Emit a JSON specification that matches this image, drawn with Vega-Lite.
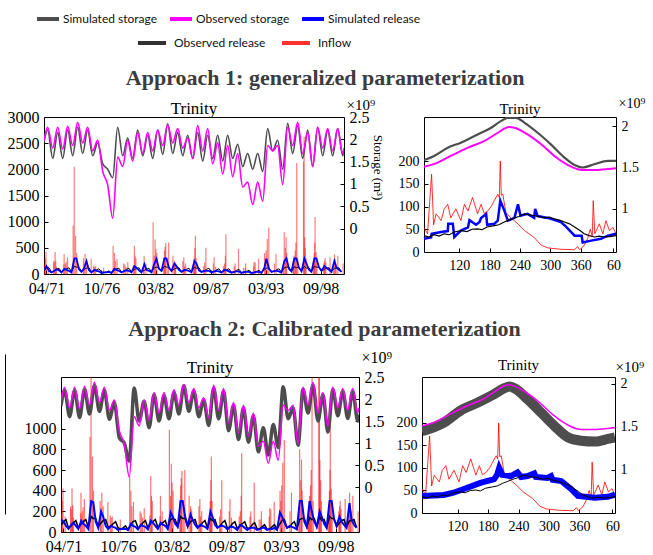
{
  "$schema": "https://vega.github.io/schema/vega-lite/v6.json",
  "background": "white",
  "padding": {"left": 5, "top": 6, "right": 0, "bottom": 0},
  "datasets": {
    "oS": [
      {"t":"1971-01-01","v":1.97},
      {"t":"1971-05-15","v":2.27},{"t":"1971-11-15","v":1.80},
      {"t":"1972-05-15","v":2.27},{"t":"1972-11-15","v":1.78},
      {"t":"1973-05-15","v":2.29},{"t":"1973-11-15","v":1.86},
      {"t":"1974-05-15","v":2.38},{"t":"1974-11-15","v":1.92},
      {"t":"1975-05-15","v":2.27},{"t":"1975-11-15","v":1.74},
      {"t":"1976-05-15","v":1.98},{"t":"1976-11-15","v":1.28},
      {"t":"1977-05-15","v":0.98},{"t":"1977-11-15","v":0.23},
      {"t":"1978-05-15","v":1.60},{"t":"1978-11-15","v":1.39},
      {"t":"1979-05-15","v":1.98},{"t":"1979-11-15","v":1.51},
      {"t":"1980-05-15","v":2.15},{"t":"1980-11-15","v":1.68},
      {"t":"1981-05-15","v":2.15},{"t":"1981-11-15","v":1.74},
      {"t":"1982-05-15","v":2.21},{"t":"1982-11-15","v":1.86},
      {"t":"1983-05-15","v":2.33},{"t":"1983-11-15","v":1.92},
      {"t":"1984-05-15","v":2.24},{"t":"1984-11-15","v":1.80},
      {"t":"1985-05-15","v":2.03},{"t":"1985-11-15","v":1.57},
      {"t":"1986-05-15","v":2.31},{"t":"1986-11-15","v":1.74},
      {"t":"1987-05-15","v":2.24},{"t":"1987-11-15","v":1.45},
      {"t":"1988-05-15","v":1.92},{"t":"1988-11-15","v":1.22},
      {"t":"1989-05-15","v":1.86},{"t":"1989-11-15","v":1.16},
      {"t":"1990-05-15","v":1.68},{"t":"1990-11-15","v":0.93},
      {"t":"1991-05-15","v":1.04},{"t":"1991-11-15","v":0.54},
      {"t":"1992-05-15","v":1.04},{"t":"1992-11-15","v":0.61},
      {"t":"1993-05-15","v":1.86},{"t":"1993-11-15","v":1.74},
      {"t":"1994-05-15","v":1.86},{"t":"1994-11-15","v":0.98},
      {"t":"1995-05-15","v":2.27},{"t":"1995-11-15","v":1.86},
      {"t":"1996-05-15","v":2.38},{"t":"1996-11-15","v":1.68},
      {"t":"1997-05-15","v":2.15},{"t":"1997-11-15","v":1.39},
      {"t":"1998-05-15","v":2.27},{"t":"1998-11-15","v":1.80},
      {"t":"1999-05-15","v":2.24},{"t":"1999-11-15","v":1.74},
      {"t":"2000-05-15","v":2.24},{"t":"2000-11-15","v":1.68},
      {"t":"2000-12-31","v":1.80}
    ],
    "sS1": [
      {"t":"1971-01-01","v":1.94},
      {"t":"1971-05-15","v":2.21},{"t":"1971-11-15","v":1.57},
      {"t":"1972-05-15","v":2.15},{"t":"1972-11-15","v":1.57},
      {"t":"1973-05-15","v":2.21},{"t":"1973-11-15","v":1.63},
      {"t":"1974-05-15","v":2.27},{"t":"1974-11-15","v":1.68},
      {"t":"1975-05-15","v":2.21},{"t":"1975-11-15","v":1.63},
      {"t":"1976-05-15","v":1.92},{"t":"1976-11-15","v":1.45},
      {"t":"1977-05-15","v":1.33},{"t":"1977-11-15","v":1.14},
      {"t":"1978-05-15","v":2.27},{"t":"1978-11-15","v":1.63},
      {"t":"1979-05-15","v":2.03},{"t":"1979-11-15","v":1.57},
      {"t":"1980-05-15","v":2.21},{"t":"1980-11-15","v":1.63},
      {"t":"1981-05-15","v":2.09},{"t":"1981-11-15","v":1.57},
      {"t":"1982-05-15","v":2.21},{"t":"1982-11-15","v":1.66},
      {"t":"1983-05-15","v":2.35},{"t":"1983-11-15","v":1.68},
      {"t":"1984-05-15","v":2.15},{"t":"1984-11-15","v":1.63},
      {"t":"1985-05-15","v":2.09},{"t":"1985-11-15","v":1.57},
      {"t":"1986-05-15","v":2.15},{"t":"1986-11-15","v":1.51},
      {"t":"1987-05-15","v":2.09},{"t":"1987-11-15","v":1.57},
      {"t":"1988-05-15","v":2.09},{"t":"1988-11-15","v":1.51},
      {"t":"1989-05-15","v":2.09},{"t":"1989-11-15","v":1.57},
      {"t":"1990-05-15","v":1.89},{"t":"1990-11-15","v":1.39},
      {"t":"1991-05-15","v":1.68},{"t":"1991-11-15","v":1.33},
      {"t":"1992-05-15","v":1.68},{"t":"1992-11-15","v":1.28},
      {"t":"1993-05-15","v":2.24},{"t":"1993-11-15","v":1.74},
      {"t":"1994-05-15","v":1.98},{"t":"1994-11-15","v":1.33},
      {"t":"1995-05-15","v":2.36},{"t":"1995-11-15","v":1.68},
      {"t":"1996-05-15","v":2.30},{"t":"1996-11-15","v":1.57},
      {"t":"1997-05-15","v":2.21},{"t":"1997-11-15","v":1.39},
      {"t":"1998-05-15","v":2.27},{"t":"1998-11-15","v":1.63},
      {"t":"1999-05-15","v":2.21},{"t":"1999-11-15","v":1.63},
      {"t":"2000-05-15","v":2.24},{"t":"2000-11-15","v":1.63},
      {"t":"2000-12-31","v":1.75}
    ],
    "sS2": [
      {"t":"1971-01-01","v":1.85},
      {"t":"1971-05-15","v":2.20},{"t":"1971-11-15","v":1.60},
      {"t":"1972-05-15","v":2.20},{"t":"1972-11-15","v":1.58},
      {"t":"1973-05-15","v":2.22},{"t":"1973-11-15","v":1.66},
      {"t":"1974-05-15","v":2.31},{"t":"1974-11-15","v":1.72},
      {"t":"1975-05-15","v":2.20},{"t":"1975-11-15","v":1.54},
      {"t":"1976-05-15","v":1.92},{"t":"1976-11-15","v":1.12},
      {"t":"1977-05-15","v":1.00},{"t":"1977-11-15","v":0.59},
      {"t":"1978-05-15","v":2.25},{"t":"1978-11-15","v":1.50},
      {"t":"1979-05-15","v":1.95},{"t":"1979-11-15","v":1.35},
      {"t":"1980-05-15","v":2.10},{"t":"1980-11-15","v":1.50},
      {"t":"1981-05-15","v":2.08},{"t":"1981-11-15","v":1.55},
      {"t":"1982-05-15","v":2.15},{"t":"1982-11-15","v":1.66},
      {"t":"1983-05-15","v":2.30},{"t":"1983-11-15","v":1.72},
      {"t":"1984-05-15","v":2.18},{"t":"1984-11-15","v":1.60},
      {"t":"1985-05-15","v":1.98},{"t":"1985-11-15","v":1.40},
      {"t":"1986-05-15","v":2.25},{"t":"1986-11-15","v":1.55},
      {"t":"1987-05-15","v":2.18},{"t":"1987-11-15","v":1.28},
      {"t":"1988-05-15","v":1.86},{"t":"1988-11-15","v":1.08},
      {"t":"1989-05-15","v":1.80},{"t":"1989-11-15","v":1.02},
      {"t":"1990-05-15","v":1.62},{"t":"1990-11-15","v":0.80},
      {"t":"1991-05-15","v":1.35},{"t":"1991-11-15","v":0.73},
      {"t":"1992-05-15","v":1.42},{"t":"1992-11-15","v":0.90},
      {"t":"1993-05-15","v":2.28},{"t":"1993-11-15","v":1.55},
      {"t":"1994-05-15","v":1.80},{"t":"1994-11-15","v":0.95},
      {"t":"1995-05-15","v":2.22},{"t":"1995-11-15","v":1.68},
      {"t":"1996-05-15","v":2.32},{"t":"1996-11-15","v":1.50},
      {"t":"1997-05-15","v":2.10},{"t":"1997-11-15","v":1.25},
      {"t":"1998-05-15","v":2.22},{"t":"1998-11-15","v":1.62},
      {"t":"1999-05-15","v":2.18},{"t":"1999-11-15","v":1.56},
      {"t":"2000-05-15","v":2.18},{"t":"2000-11-15","v":1.50},
      {"t":"2000-12-31","v":1.65}
    ],
    "inf": [
      {"t":"1971-01-20","v":180},{"t":"1971-02-15","v":300},{"t":"1971-03-15","v":420},{"t":"1971-06-01","v":150},{"t":"1971-12-20","v":250},
      {"t":"1972-01-10","v":220},{"t":"1972-02-10","v":420},{"t":"1972-03-05","v":260},{"t":"1972-04-01","v":140},{"t":"1972-12-25","v":180},
      {"t":"1973-01-05","v":380},{"t":"1973-02-20","v":200},{"t":"1973-03-25","v":240},{"t":"1973-05-10","v":320},{"t":"1973-12-01","v":920},
      {"t":"1974-01-10","v":2050},{"t":"1974-03-01","v":730},{"t":"1974-04-10","v":400},{"t":"1974-12-10","v":300},
      {"t":"1975-01-05","v":200},{"t":"1975-02-10","v":380},{"t":"1975-04-01","v":250},{"t":"1975-09-20","v":290},{"t":"1975-12-15","v":160},
      {"t":"1976-01-20","v":140},{"t":"1976-03-01","v":150},{"t":"1976-12-20","v":120},
      {"t":"1977-12-01","v":540},
      {"t":"1978-01-15","v":400},{"t":"1978-02-20","v":250},{"t":"1978-04-20","v":290},{"t":"1978-12-20","v":200},
      {"t":"1979-02-01","v":180},{"t":"1979-03-15","v":140},{"t":"1979-05-20","v":230},{"t":"1979-12-10","v":160},
      {"t":"1980-01-15","v":540},{"t":"1980-02-10","v":350},{"t":"1980-03-10","v":300},{"t":"1980-12-20","v":150},
      {"t":"1981-01-05","v":350},{"t":"1981-03-10","v":200},{"t":"1981-11-30","v":990},
      {"t":"1982-01-10","v":350},{"t":"1982-02-10","v":660},{"t":"1982-03-10","v":480},{"t":"1982-04-15","v":400},{"t":"1982-12-20","v":300},
      {"t":"1983-01-20","v":450},{"t":"1983-02-10","v":520},{"t":"1983-03-05","v":590},{"t":"1983-04-25","v":300},{"t":"1983-06-20","v":600},{"t":"1983-11-25","v":350},
      {"t":"1984-01-20","v":250},{"t":"1984-02-05","v":220},{"t":"1984-03-01","v":200},{"t":"1984-11-20","v":250},{"t":"1984-12-25","v":320},
      {"t":"1985-01-15","v":150},{"t":"1985-03-01","v":200},{"t":"1985-12-20","v":180},
      {"t":"1986-01-10","v":300},{"t":"1986-02-01","v":500},{"t":"1986-02-20","v":730},{"t":"1986-03-20","v":300},{"t":"1986-12-20","v":150},
      {"t":"1987-01-25","v":220},{"t":"1987-03-10","v":500},{"t":"1987-12-10","v":200},
      {"t":"1988-01-05","v":320},{"t":"1988-03-01","v":140},{"t":"1988-12-10","v":150},
      {"t":"1989-01-20","v":200},{"t":"1989-02-20","v":350},{"t":"1989-03-10","v":760},
      {"t":"1990-01-10","v":150},{"t":"1990-02-10","v":200},{"t":"1990-06-15","v":480},{"t":"1990-12-15","v":120},
      {"t":"1991-02-15","v":120},{"t":"1991-03-05","v":200},{"t":"1991-12-20","v":150},
      {"t":"1992-01-05","v":230},{"t":"1992-02-15","v":220},{"t":"1992-06-20","v":290},
      {"t":"1993-01-20","v":400},{"t":"1993-02-20","v":300},{"t":"1993-03-20","v":450},{"t":"1993-05-01","v":670},{"t":"1993-06-25","v":890},
      {"t":"1994-01-20","v":200},{"t":"1994-03-15","v":380},{"t":"1994-12-10","v":180},
      {"t":"1995-01-10","v":800},{"t":"1995-02-20","v":500},{"t":"1995-03-20","v":700},{"t":"1995-04-10","v":400},{"t":"1995-11-30","v":250},{"t":"1995-12-20","v":300},
      {"t":"1996-01-10","v":350},{"t":"1996-02-15","v":450},{"t":"1996-03-10","v":600},{"t":"1996-04-10","v":2120},{"t":"1996-05-20","v":300},{"t":"1996-12-15","v":2150},
      {"t":"1997-01-05","v":2620},{"t":"1997-01-25","v":700},{"t":"1997-02-20","v":500},{"t":"1997-03-20","v":300},{"t":"1997-12-10","v":260},
      {"t":"1998-01-10","v":400},{"t":"1998-01-30","v":600},{"t":"1998-02-10","v":1090},{"t":"1998-03-20","v":420},{"t":"1998-04-20","v":300},{"t":"1998-12-20","v":200},
      {"t":"1999-01-20","v":250},{"t":"1999-02-10","v":300},{"t":"1999-03-10","v":220},{"t":"1999-08-10","v":320},{"t":"1999-12-15","v":200},
      {"t":"2000-01-20","v":380},{"t":"2000-02-20","v":280},{"t":"2000-03-20","v":200},{"t":"2000-05-20","v":350},{"t":"2000-12-01","v":200}
    ],
    "oR": [
      {"t":"1971-01-15","v":70},{"t":"1971-04-01","v":100},{"t":"1971-07-01","v":120},{"t":"1971-10-01","v":40},
      {"t":"1972-01-15","v":60},{"t":"1972-04-01","v":90},{"t":"1972-07-01","v":110},{"t":"1972-10-01","v":40},
      {"t":"1973-01-15","v":80},{"t":"1973-04-01","v":100},{"t":"1973-07-01","v":120},{"t":"1973-10-01","v":45},
      {"t":"1974-01-15","v":150},{"t":"1974-04-01","v":130},{"t":"1974-07-01","v":130},{"t":"1974-10-01","v":50},
      {"t":"1975-01-15","v":90},{"t":"1975-04-01","v":110},{"t":"1975-07-01","v":120},{"t":"1975-10-01","v":45},
      {"t":"1976-01-15","v":60},{"t":"1976-04-01","v":80},{"t":"1976-07-01","v":100},{"t":"1976-10-01","v":40},
      {"t":"1977-01-15","v":30},{"t":"1977-04-01","v":40},{"t":"1977-07-01","v":60},{"t":"1977-10-01","v":20},
      {"t":"1978-01-15","v":70},{"t":"1978-04-01","v":100},{"t":"1978-07-01","v":110},{"t":"1978-10-01","v":40},
      {"t":"1979-01-15","v":60},{"t":"1979-04-01","v":90},{"t":"1979-07-01","v":110},{"t":"1979-10-01","v":40},
      {"t":"1980-01-15","v":90},{"t":"1980-04-01","v":100},{"t":"1980-07-01","v":120},{"t":"1980-10-01","v":45},
      {"t":"1981-01-15","v":70},{"t":"1981-04-01","v":90},{"t":"1981-07-01","v":110},{"t":"1981-10-01","v":40},
      {"t":"1982-01-15","v":120},{"t":"1982-04-01","v":130},{"t":"1982-07-01","v":120},{"t":"1982-10-01","v":50},
      {"t":"1983-01-15","v":150},{"t":"1983-04-01","v":130},{"t":"1983-07-01","v":130},{"t":"1983-10-01","v":50},
      {"t":"1984-01-15","v":100},{"t":"1984-04-01","v":110},{"t":"1984-07-01","v":120},{"t":"1984-10-01","v":45},
      {"t":"1985-01-15","v":60},{"t":"1985-04-01","v":90},{"t":"1985-07-01","v":110},{"t":"1985-10-01","v":40},
      {"t":"1986-01-15","v":130},{"t":"1986-04-01","v":110},{"t":"1986-07-01","v":120},{"t":"1986-10-01","v":45},
      {"t":"1987-01-15","v":60},{"t":"1987-04-01","v":90},{"t":"1987-07-01","v":110},{"t":"1987-10-01","v":40},
      {"t":"1988-01-15","v":50},{"t":"1988-04-01","v":80},{"t":"1988-07-01","v":100},{"t":"1988-10-01","v":35},
      {"t":"1989-01-15","v":60},{"t":"1989-04-01","v":80},{"t":"1989-07-01","v":100},{"t":"1989-10-01","v":35},
      {"t":"1990-01-15","v":40},{"t":"1990-04-01","v":70},{"t":"1990-07-01","v":90},{"t":"1990-10-01","v":30},
      {"t":"1991-01-15","v":30},{"t":"1991-04-01","v":50},{"t":"1991-07-01","v":70},{"t":"1991-10-01","v":25},
      {"t":"1992-01-15","v":30},{"t":"1992-04-01","v":50},{"t":"1992-07-01","v":70},{"t":"1992-10-01","v":25},
      {"t":"1993-01-15","v":80},{"t":"1993-04-01","v":110},{"t":"1993-07-01","v":120},{"t":"1993-10-01","v":40},
      {"t":"1994-01-15","v":50},{"t":"1994-04-01","v":80},{"t":"1994-07-01","v":100},{"t":"1994-10-01","v":35},
      {"t":"1995-01-15","v":120},{"t":"1995-04-01","v":130},{"t":"1995-07-01","v":130},{"t":"1995-10-01","v":50},
      {"t":"1996-01-15","v":140},{"t":"1996-04-01","v":120},{"t":"1996-07-01","v":130},{"t":"1996-10-01","v":50},
      {"t":"1997-01-15","v":150},{"t":"1997-04-01","v":110},{"t":"1997-07-01","v":120},{"t":"1997-10-01","v":45},
      {"t":"1998-01-15","v":150},{"t":"1998-04-01","v":130},{"t":"1998-07-01","v":130},{"t":"1998-10-01","v":50},
      {"t":"1999-01-15","v":90},{"t":"1999-04-01","v":110},{"t":"1999-07-01","v":120},{"t":"1999-10-01","v":45},
      {"t":"2000-01-15","v":110},{"t":"2000-04-01","v":110},{"t":"2000-07-01","v":120},{"t":"2000-10-01","v":45}
    ],
    "sR1": [
      {"t":"1971-01-15","v":80},{"t":"1971-04-01","v":150},{"t":"1971-07-01","v":60},{"t":"1971-10-01","v":30},
      {"t":"1972-01-15","v":60},{"t":"1972-04-01","v":90},{"t":"1972-07-01","v":70},{"t":"1972-10-01","v":30},
      {"t":"1973-01-15","v":100},{"t":"1973-04-01","v":80},{"t":"1973-07-01","v":60},{"t":"1973-10-01","v":30},
      {"t":"1974-01-15","v":300},{"t":"1974-04-01","v":300},{"t":"1974-07-01","v":90},{"t":"1974-10-01","v":40},
      {"t":"1975-01-15","v":120},{"t":"1975-04-01","v":250},{"t":"1975-07-01","v":70},{"t":"1975-10-01","v":30},
      {"t":"1976-01-15","v":80},{"t":"1976-04-01","v":60},{"t":"1976-07-01","v":50},{"t":"1976-10-01","v":20},
      {"t":"1977-01-15","v":30},{"t":"1977-04-01","v":30},{"t":"1977-07-01","v":40},{"t":"1977-10-01","v":20},
      {"t":"1978-01-15","v":100},{"t":"1978-04-01","v":80},{"t":"1978-07-01","v":60},{"t":"1978-10-01","v":30},
      {"t":"1979-01-15","v":60},{"t":"1979-04-01","v":70},{"t":"1979-07-01","v":60},{"t":"1979-10-01","v":30},
      {"t":"1980-01-15","v":150},{"t":"1980-04-01","v":120},{"t":"1980-07-01","v":70},{"t":"1980-10-01","v":30},
      {"t":"1981-01-15","v":190},{"t":"1981-04-01","v":80},{"t":"1981-07-01","v":60},{"t":"1981-10-01","v":30},
      {"t":"1982-01-15","v":200},{"t":"1982-04-01","v":290},{"t":"1982-07-01","v":100},{"t":"1982-10-01","v":60},
      {"t":"1983-01-15","v":300},{"t":"1983-04-01","v":300},{"t":"1983-07-01","v":120},{"t":"1983-10-01","v":60},
      {"t":"1984-01-15","v":200},{"t":"1984-04-01","v":150},{"t":"1984-07-01","v":80},{"t":"1984-10-01","v":40},
      {"t":"1985-01-15","v":80},{"t":"1985-04-01","v":70},{"t":"1985-07-01","v":60},{"t":"1985-10-01","v":30},
      {"t":"1986-01-15","v":250},{"t":"1986-04-01","v":200},{"t":"1986-07-01","v":70},{"t":"1986-10-01","v":40},
      {"t":"1987-01-15","v":60},{"t":"1987-04-01","v":60},{"t":"1987-07-01","v":60},{"t":"1987-10-01","v":30},
      {"t":"1988-01-15","v":50},{"t":"1988-04-01","v":60},{"t":"1988-07-01","v":50},{"t":"1988-10-01","v":25},
      {"t":"1989-01-15","v":80},{"t":"1989-04-01","v":70},{"t":"1989-07-01","v":50},{"t":"1989-10-01","v":25},
      {"t":"1990-01-15","v":40},{"t":"1990-04-01","v":50},{"t":"1990-07-01","v":50},{"t":"1990-10-01","v":20},
      {"t":"1991-01-15","v":40},{"t":"1991-04-01","v":40},{"t":"1991-07-01","v":40},{"t":"1991-10-01","v":20},
      {"t":"1992-01-15","v":30},{"t":"1992-04-01","v":40},{"t":"1992-07-01","v":40},{"t":"1992-10-01","v":20},
      {"t":"1993-01-15","v":120},{"t":"1993-04-01","v":290},{"t":"1993-07-01","v":100},{"t":"1993-10-01","v":40},
      {"t":"1994-01-15","v":60},{"t":"1994-04-01","v":60},{"t":"1994-07-01","v":50},{"t":"1994-10-01","v":25},
      {"t":"1995-01-15","v":250},{"t":"1995-04-01","v":300},{"t":"1995-07-01","v":100},{"t":"1995-10-01","v":50},
      {"t":"1996-01-15","v":300},{"t":"1996-04-01","v":300},{"t":"1996-07-01","v":120},{"t":"1996-10-01","v":50},
      {"t":"1997-01-15","v":300},{"t":"1997-04-01","v":200},{"t":"1997-07-01","v":80},{"t":"1997-10-01","v":40},
      {"t":"1998-01-15","v":300},{"t":"1998-04-01","v":300},{"t":"1998-07-01","v":130},{"t":"1998-10-01","v":60},
      {"t":"1999-01-15","v":150},{"t":"1999-04-01","v":120},{"t":"1999-07-01","v":80},{"t":"1999-10-01","v":40},
      {"t":"2000-01-15","v":250},{"t":"2000-04-01","v":120},{"t":"2000-07-01","v":80},{"t":"2000-10-01","v":40}
    ],
    "sR2": [
      {"t":"1971-01-15","v":120},{"t":"1971-04-01","v":100},{"t":"1971-07-01","v":60},{"t":"1971-10-01","v":30},
      {"t":"1972-01-15","v":70},{"t":"1972-04-01","v":90},{"t":"1972-07-01","v":60},{"t":"1972-10-01","v":30},
      {"t":"1973-01-15","v":110},{"t":"1973-04-01","v":80},{"t":"1973-07-01","v":60},{"t":"1973-10-01","v":30},
      {"t":"1974-01-15","v":300},{"t":"1974-04-01","v":290},{"t":"1974-07-01","v":100},{"t":"1974-10-01","v":40},
      {"t":"1975-01-15","v":200},{"t":"1975-04-01","v":150},{"t":"1975-07-01","v":60},{"t":"1975-10-01","v":30},
      {"t":"1976-01-15","v":60},{"t":"1976-04-01","v":50},{"t":"1976-07-01","v":40},{"t":"1976-10-01","v":20},
      {"t":"1977-01-15","v":30},{"t":"1977-04-01","v":30},{"t":"1977-07-01","v":30},{"t":"1977-10-01","v":20},
      {"t":"1978-01-15","v":80},{"t":"1978-04-01","v":60},{"t":"1978-07-01","v":50},{"t":"1978-10-01","v":25},
      {"t":"1979-01-15","v":70},{"t":"1979-04-01","v":60},{"t":"1979-07-01","v":50},{"t":"1979-10-01","v":25},
      {"t":"1980-01-15","v":110},{"t":"1980-04-01","v":90},{"t":"1980-07-01","v":60},{"t":"1980-10-01","v":30},
      {"t":"1981-01-15","v":90},{"t":"1981-04-01","v":70},{"t":"1981-07-01","v":60},{"t":"1981-10-01","v":30},
      {"t":"1982-01-15","v":190},{"t":"1982-04-01","v":150},{"t":"1982-07-01","v":80},{"t":"1982-10-01","v":50},
      {"t":"1983-01-15","v":300},{"t":"1983-04-01","v":300},{"t":"1983-07-01","v":150},{"t":"1983-10-01","v":60},
      {"t":"1984-01-15","v":170},{"t":"1984-04-01","v":120},{"t":"1984-07-01","v":70},{"t":"1984-10-01","v":40},
      {"t":"1985-01-15","v":70},{"t":"1985-04-01","v":60},{"t":"1985-07-01","v":50},{"t":"1985-10-01","v":30},
      {"t":"1986-01-15","v":200},{"t":"1986-04-01","v":150},{"t":"1986-07-01","v":70},{"t":"1986-10-01","v":40},
      {"t":"1987-01-15","v":60},{"t":"1987-04-01","v":60},{"t":"1987-07-01","v":50},{"t":"1987-10-01","v":25},
      {"t":"1988-01-15","v":50},{"t":"1988-04-01","v":50},{"t":"1988-07-01","v":40},{"t":"1988-10-01","v":20},
      {"t":"1989-01-15","v":70},{"t":"1989-04-01","v":60},{"t":"1989-07-01","v":40},{"t":"1989-10-01","v":20},
      {"t":"1990-01-15","v":40},{"t":"1990-04-01","v":40},{"t":"1990-07-01","v":40},{"t":"1990-10-01","v":20},
      {"t":"1991-01-15","v":30},{"t":"1991-04-01","v":40},{"t":"1991-07-01","v":40},{"t":"1991-10-01","v":20},
      {"t":"1992-01-15","v":30},{"t":"1992-04-01","v":30},{"t":"1992-07-01","v":40},{"t":"1992-10-01","v":20},
      {"t":"1993-01-15","v":190},{"t":"1993-04-01","v":150},{"t":"1993-07-01","v":90},{"t":"1993-10-01","v":40},
      {"t":"1994-01-15","v":60},{"t":"1994-04-01","v":50},{"t":"1994-07-01","v":40},{"t":"1994-10-01","v":25},
      {"t":"1995-01-15","v":300},{"t":"1995-04-01","v":300},{"t":"1995-07-01","v":100},{"t":"1995-10-01","v":50},
      {"t":"1996-01-15","v":300},{"t":"1996-04-01","v":200},{"t":"1996-07-01","v":100},{"t":"1996-10-01","v":50},
      {"t":"1997-01-15","v":200},{"t":"1997-04-01","v":150},{"t":"1997-07-01","v":80},{"t":"1997-10-01","v":40},
      {"t":"1998-01-15","v":300},{"t":"1998-04-01","v":300},{"t":"1998-07-01","v":120},{"t":"1998-10-01","v":60},
      {"t":"1999-01-15","v":150},{"t":"1999-04-01","v":100},{"t":"1999-07-01","v":70},{"t":"1999-10-01","v":40},
      {"t":"2000-01-15","v":280},{"t":"2000-04-01","v":120},{"t":"2000-07-01","v":70},{"t":"2000-10-01","v":40}
    ],
    "oSc": [
      {"d":50,"v":1.51},{"d":77,"v":1.56},{"d":103,"v":1.64},{"d":137,"v":1.74},{"d":169,"v":1.82},
      {"d":196,"v":1.92},{"d":209,"v":1.97},{"d":219,"v":1.99},{"d":229,"v":1.98},{"d":255,"v":1.90},
      {"d":282,"v":1.78},{"d":308,"v":1.64},{"d":335,"v":1.53},{"d":354,"v":1.48},{"d":370,"v":1.47},
      {"d":387,"v":1.47},{"d":410,"v":1.48},{"d":430,"v":1.49}
    ],
    "sSc1": [
      {"d":50,"v":1.59},{"d":70,"v":1.64},{"d":97,"v":1.74},{"d":123,"v":1.80},{"d":156,"v":1.90},
      {"d":183,"v":1.98},{"d":202,"v":2.06},{"d":216,"v":2.10},{"d":232,"v":2.10},{"d":249,"v":2.04},
      {"d":275,"v":1.92},{"d":301,"v":1.78},{"d":328,"v":1.62},{"d":348,"v":1.53},{"d":364,"v":1.50},
      {"d":387,"v":1.54},{"d":414,"v":1.58},{"d":430,"v":1.58}
    ],
    "sSc2": [
      {"d":50,"v":1.45},{"d":93,"v":1.55},{"d":126,"v":1.69},{"d":159,"v":1.78},{"d":192,"v":1.88},
      {"d":212,"v":1.95},{"d":222,"v":1.97},{"d":235,"v":1.94},{"d":258,"v":1.82},{"d":284,"v":1.67},
      {"d":311,"v":1.51},{"d":337,"v":1.38},{"d":363,"v":1.34},{"d":390,"v":1.33},{"d":416,"v":1.36},
      {"d":430,"v":1.38}
    ],
    "infc": [
      {"d":50,"v":54},{"d":57,"v":40},{"d":65,"v":171},{"d":69,"v":60},{"d":74,"v":84},{"d":84,"v":69},
      {"d":90,"v":95},{"d":97,"v":105},{"d":103,"v":75},{"d":113,"v":95},{"d":123,"v":69},{"d":130,"v":105},
      {"d":137,"v":90},{"d":146,"v":120},{"d":153,"v":95},{"d":156,"v":84},{"d":163,"v":105},{"d":169,"v":85},
      {"d":176,"v":90},{"d":183,"v":100},{"d":189,"v":113},{"d":196,"v":127},{"d":199,"v":120},{"d":201,"v":200},
      {"d":203,"v":125},{"d":206,"v":127},{"d":212,"v":87},{"d":222,"v":75},{"d":236,"v":62},{"d":249,"v":47},
      {"d":268,"v":32},{"d":282,"v":15},{"d":295,"v":9},{"d":321,"v":6},{"d":348,"v":5},{"d":354,"v":12},
      {"d":358,"v":5},{"d":367,"v":14},{"d":374,"v":30},{"d":379,"v":50},{"d":383,"v":35},{"d":385,"v":113},
      {"d":388,"v":40},{"d":397,"v":62},{"d":404,"v":40},{"d":410,"v":69},{"d":417,"v":47},{"d":424,"v":54},
      {"d":430,"v":40}
    ],
    "oRc": [
      {"d":50,"v":36},{"d":60,"v":33},{"d":70,"v":38},{"d":80,"v":35},{"d":90,"v":40},{"d":100,"v":38},
      {"d":110,"v":44},{"d":123,"v":47},{"d":135,"v":45},{"d":145,"v":50},{"d":156,"v":51},{"d":165,"v":49},
      {"d":175,"v":55},{"d":189,"v":58},{"d":198,"v":60},{"d":209,"v":66},{"d":218,"v":70},{"d":229,"v":75},
      {"d":238,"v":78},{"d":249,"v":84},{"d":258,"v":82},{"d":268,"v":80},{"d":278,"v":78},{"d":288,"v":75},
      {"d":298,"v":77},{"d":308,"v":73},{"d":318,"v":70},{"d":328,"v":66},{"d":338,"v":62},{"d":348,"v":55},
      {"d":358,"v":48},{"d":367,"v":40},{"d":377,"v":36},{"d":387,"v":33},{"d":397,"v":35},{"d":407,"v":33},
      {"d":417,"v":34},{"d":430,"v":36}
    ],
    "sRc1": [
      {"d":50,"v":29},{"d":64,"v":32},{"d":65,"v":40},{"d":84,"v":44},{"d":97,"v":46},{"d":98,"v":62},
      {"d":107,"v":62},{"d":110,"v":33},{"d":123,"v":47},{"d":137,"v":54},{"d":140,"v":70},{"d":153,"v":60},
      {"d":160,"v":66},{"d":163,"v":75},{"d":173,"v":84},{"d":175,"v":60},{"d":189,"v":62},{"d":196,"v":69},
      {"d":201,"v":113},{"d":209,"v":91},{"d":216,"v":69},{"d":229,"v":75},{"d":236,"v":105},{"d":241,"v":80},
      {"d":255,"v":84},{"d":268,"v":75},{"d":270,"v":95},{"d":275,"v":79},{"d":295,"v":75},{"d":321,"v":66},
      {"d":331,"v":56},{"d":348,"v":36},{"d":362,"v":36},{"d":364,"v":21},{"d":381,"v":25},{"d":400,"v":29},
      {"d":414,"v":36},{"d":430,"v":40}
    ],
    "sRc2": [
      {"d":50,"v":38},{"d":93,"v":40},{"d":112,"v":45},{"d":139,"v":56},{"d":165,"v":67},{"d":192,"v":75},
      {"d":198,"v":85},{"d":202,"v":100},{"d":208,"v":85},{"d":225,"v":82},{"d":238,"v":90},{"d":245,"v":80},
      {"d":258,"v":82},{"d":271,"v":88},{"d":274,"v":80},{"d":297,"v":78},{"d":304,"v":82},{"d":307,"v":74},
      {"d":324,"v":71},{"d":344,"v":53},{"d":357,"v":38},{"d":390,"v":34},{"d":416,"v":36},{"d":430,"v":41}
    ]
  },
  "spacing": 20,
  "vconcat": [
    {
      "title": {"text": "Approach 1: generalized parameterization", "fontSize": 22, "fontWeight": "bold", "color": "#3c3c3c", "offset": 6, "anchor": "middle"},
      "spacing": 0,
      "hconcat": [
        {
          "width": 1, "height": 10,
          "data": {"values": []},
          "mark": {"type": "point", "opacity": 0},
          "view": {"stroke": null}
        },
        {
          "spacing": 13,
          "hconcat": [
            {
              "width": 300, "height": 157,
              "title": {"text": "Trinity", "fontSize": 17, "offset": -21},
              "encoding": {
                "x": {"field": "t", "type": "temporal",
                  "scale": {"domain": [{"year": 1971, "month": 1, "date": 1}, {"year": 2001, "month": 1, "date": 1}]},
                  "axis": {"values": [{"year":1971,"month":4,"date":1},{"year":1976,"month":10,"date":1},{"year":1982,"month":3,"date":1},{"year":1987,"month":9,"date":1},{"year":1993,"month":3,"date":1},{"year":1998,"month":9,"date":1}],
                    "format": "%m/%y", "labelFontSize": 16, "labelPadding": 10, "title": null}}
              },
              "layer": [
                {
                  "encoding": {"y": {"field": "v", "type": "quantitative", "scale": {"domain": [0, 3000], "nice": false, "zero": false},
                    "axis": {"orient": "left", "values": [0,500,1000,1500,2000,2500,3000], "format": "d", "labelFontSize": 16, "title": null}}},
                  "layer": [
                    {"data": {"name": "inf"}, "mark": {"type": "rule", "strokeWidth": 1.2, "opacity": 0.5, "clip": true},
                     "encoding": {"y2": {"datum": 0}, "stroke": {"datum": "Inflow", "scale": {"domain": ["Observed release", "Inflow"], "range": ["#000000", "#ff0000"]},
                       "legend": {"orient": "none", "legendX": 131, "legendY": -90, "direction": "horizontal", "title": null, "symbolType": "stroke", "symbolSize": 784, "symbolStrokeWidth": 4, "symbolOpacity": 1, "labelFont": "Lato", "labelFontSize": 12, "labelColor": "#111", "labelOffset": 6, "columnPadding": 8}}}},
                    {"data": {"name": "oR"}, "mark": {"type": "line", "strokeWidth": 1, "clip": true},
                     "encoding": {"stroke": {"datum": "Observed release", "scale": {"domain": ["Observed release", "Inflow"], "range": ["#000000", "#ff0000"]},
                       "legend": {"orient": "none", "legendX": 131, "legendY": -90, "direction": "horizontal", "title": null, "symbolType": "stroke", "symbolSize": 784, "symbolStrokeWidth": 4, "symbolOpacity": 1, "labelFont": "Lato", "labelFontSize": 12, "labelColor": "#111", "labelOffset": 6, "columnPadding": 8}}}},
                    {"data": {"name": "sR1"}, "mark": {"type": "line", "strokeWidth": 1.8, "clip": true},
                     "encoding": {"color": {"datum": "Simulated release", "scale": {"domain": ["Simulated storage", "Observed storage", "Simulated release"], "range": ["#4d4d4d", "#ff00ff", "#0000ff"]},
                       "legend": {"orient": "none", "legendX": 30, "legendY": -111, "direction": "horizontal", "title": null, "symbolType": "stroke", "symbolSize": 484, "symbolStrokeWidth": 4, "symbolOpacity": 1, "labelFont": "Lato", "labelFontSize": 12, "labelColor": "#111", "labelOffset": 2, "columnPadding": 4}}}}
                  ]
                },
                {
                  "encoding": {"y": {"field": "v", "type": "quantitative", "scale": {"domain": [-1.02, 2.5], "nice": false, "zero": false},
                    "axis": {"orient": "right", "values": [0,0.5,1,1.5,2,2.5], "format": "~g", "labelFontSize": 16,
                      "title": "×10⁹", "titleAngle": 0, "titleX": 2, "titleY": -5, "titleAlign": "left", "titleBaseline": "bottom", "titleFontSize": 15}}},
                  "layer": [
                    {"data": {"name": "sS1"}, "mark": {"type": "line", "strokeWidth": 1.6, "interpolate": "monotone", "clip": true},
                     "encoding": {"color": {"datum": "Simulated storage", "scale": {"domain": ["Simulated storage", "Observed storage", "Simulated release"], "range": ["#4d4d4d", "#ff00ff", "#0000ff"]},
                       "legend": {"orient": "none", "legendX": 30, "legendY": -111, "direction": "horizontal", "title": null, "symbolType": "stroke", "symbolSize": 484, "symbolStrokeWidth": 4, "symbolOpacity": 1, "labelFont": "Lato", "labelFontSize": 12, "labelColor": "#111", "labelOffset": 2, "columnPadding": 4}}}},
                    {"data": {"name": "oS"}, "mark": {"type": "line", "strokeWidth": 1.6, "interpolate": "monotone", "clip": true},
                     "encoding": {"color": {"datum": "Observed storage", "scale": {"domain": ["Simulated storage", "Observed storage", "Simulated release"], "range": ["#4d4d4d", "#ff00ff", "#0000ff"]},
                       "legend": {"orient": "none", "legendX": 30, "legendY": -111, "direction": "horizontal", "title": null, "symbolType": "stroke", "symbolSize": 484, "symbolStrokeWidth": 4, "symbolOpacity": 1, "labelFont": "Lato", "labelFontSize": 12, "labelColor": "#111", "labelOffset": 2, "columnPadding": 4}}}}
                  ]
                },
                {
                  "data": {"name": "oS"}, "mark": {"type": "line", "opacity": 0},
                  "encoding": {"y": {"field": "v", "type": "quantitative", "scale": {"domain": [-1.02, 2.5], "nice": false, "zero": false},
                    "axis": {"orient": "right", "labels": false, "ticks": false, "domain": false, "title": "Storage (m³)", "titleAngle": 90, "titleX": 33, "titleY": 50, "titleAlign": "center", "titleBaseline": "middle", "titleFontSize": 13}}}
                }
              ],
              "resolve": {"scale": {"y": "independent"}}
            },
            {
              "width": 192, "height": 135,
              "title": {"text": "Trinity", "fontSize": 15, "offset": -21},
              "encoding": {
                "x": {"field": "d", "type": "quantitative", "scale": {"domain": [50, 430], "nice": false, "zero": false},
                  "axis": {"values": [120,180,240,300,360,425], "labelExpr": "datum.value > 365 ? datum.value - 365 : datum.value", "labelFontSize": 14, "labelPadding": 10, "title": null}}
              },
              "layer": [
                {
                  "encoding": {"y": {"field": "v", "type": "quantitative", "scale": {"domain": [0, 297], "nice": false, "zero": false},
                    "axis": {"orient": "left", "values": [0,50,100,150,200], "format": "d", "labelFontSize": 14, "title": null}}},
                  "layer": [
                    {"data": {"name": "infc"}, "mark": {"type": "line", "strokeWidth": 1, "opacity": 0.8, "clip": true},
                     "encoding": {"stroke": {"datum": "Inflow", "scale": {"domain": ["Observed release", "Inflow"], "range": ["#000000", "#ff0000"]}}}},
                    {"data": {"name": "sRc1"}, "mark": {"type": "line", "strokeWidth": 2.5, "clip": true},
                     "encoding": {"color": {"datum": "Simulated release", "scale": {"domain": ["Simulated storage", "Observed storage", "Simulated release"], "range": ["#4d4d4d", "#ff00ff", "#0000ff"]}}}},
                    {"data": {"name": "oRc"}, "mark": {"type": "line", "strokeWidth": 1.2, "clip": true},
                     "encoding": {"stroke": {"datum": "Observed release", "scale": {"domain": ["Observed release", "Inflow"], "range": ["#000000", "#ff0000"]}}}}
                  ]
                },
                {
                  "encoding": {"y": {"field": "v", "type": "quantitative", "scale": {"domain": [0.48, 2.11], "nice": false, "zero": false},
                    "axis": {"orient": "right", "values": [1,1.5,2], "format": "~g", "labelFontSize": 14,
                      "title": "×10⁹", "titleAngle": 0, "titleX": 2, "titleY": -7, "titleAlign": "left", "titleBaseline": "bottom", "titleFontSize": 14}}},
                  "layer": [
                    {"data": {"name": "sSc1"}, "mark": {"type": "line", "strokeWidth": 2.2, "interpolate": "monotone", "clip": true},
                     "encoding": {"color": {"datum": "Simulated storage", "scale": {"domain": ["Simulated storage", "Observed storage", "Simulated release"], "range": ["#4d4d4d", "#ff00ff", "#0000ff"]}}}},
                    {"data": {"name": "oSc"}, "mark": {"type": "line", "strokeWidth": 2, "interpolate": "monotone", "clip": true},
                     "encoding": {"color": {"datum": "Observed storage", "scale": {"domain": ["Simulated storage", "Observed storage", "Simulated release"], "range": ["#4d4d4d", "#ff00ff", "#0000ff"]}}}}
                  ]
                }
              ],
              "resolve": {"scale": {"y": "independent"}}
            }
          ]
        }
      ]
    },
    {
      "title": {"text": "Approach 2: Calibrated parameterization", "fontSize": 22, "fontWeight": "bold", "color": "#3c3c3c", "offset": 8, "anchor": "middle"},
      "spacing": 2,
      "hconcat": [
        {
          "width": 16, "height": 140,
          "data": {"values": [{"a": 0}]},
          "mark": {"type": "point", "opacity": 0, "size": 0},
          "encoding": {"y": {"field": "a", "type": "quantitative", "scale": {"range": [137, -23]},
            "axis": {"labels": false, "ticks": false, "domain": true, "domainColor": "#000", "domainWidth": 1, "title": null, "grid": false, "minExtent": 0, "maxExtent": 0}}},
          "view": {"stroke": null}
        },
        {
          "width": 298, "height": 155,
          "title": {"text": "Trinity", "fontSize": 17, "offset": -28},
          "encoding": {
            "x": {"field": "t", "type": "temporal",
              "scale": {"domain": [{"year": 1971, "month": 1, "date": 1}, {"year": 2001, "month": 1, "date": 1}]},
              "axis": {"values": [{"year":1971,"month":4,"date":1},{"year":1976,"month":10,"date":1},{"year":1982,"month":3,"date":1},{"year":1987,"month":9,"date":1},{"year":1993,"month":3,"date":1},{"year":1998,"month":9,"date":1}],
                "format": "%m/%y", "labelFontSize": 16, "labelPadding": 10, "title": null}}
          },
          "layer": [
            {
              "encoding": {"y": {"field": "v", "type": "quantitative", "scale": {"domain": [0, 1500], "nice": false, "zero": false},
                "axis": {"orient": "left", "values": [0,200,400,600,800,1000], "format": "d", "labelFontSize": 16, "title": null}}},
              "layer": [
                {"data": {"name": "inf"}, "mark": {"type": "rule", "strokeWidth": 1.2, "opacity": 0.55, "clip": true},
                 "encoding": {"y2": {"datum": 0}, "stroke": {"datum": "Inflow", "scale": {"domain": ["Observed release", "Inflow"], "range": ["#000000", "#ff0000"]}}}},
                {"data": {"name": "oR"}, "mark": {"type": "line", "strokeWidth": 1.5, "clip": true},
                 "encoding": {"stroke": {"datum": "Observed release", "scale": {"domain": ["Observed release", "Inflow"], "range": ["#000000", "#ff0000"]}}}},
                {"data": {"name": "sR2"}, "mark": {"type": "line", "strokeWidth": 2, "clip": true},
                 "encoding": {"color": {"datum": "Simulated release", "scale": {"domain": ["Simulated storage", "Observed storage", "Simulated release"], "range": ["#4d4d4d", "#ff00ff", "#0000ff"]}}}}
              ]
            },
            {
              "encoding": {"y": {"field": "v", "type": "quantitative", "scale": {"domain": [-1.02, 2.5], "nice": false, "zero": false},
                "axis": {"orient": "right", "values": [0,0.5,1,1.5,2,2.5], "format": "~g", "labelFontSize": 16,
                  "title": "×10⁹", "titleAngle": 0, "titleX": 2, "titleY": -12, "titleAlign": "left", "titleBaseline": "bottom", "titleFontSize": 16}}},
              "layer": [
                {"data": {"name": "sS2"}, "mark": {"type": "line", "strokeWidth": 3.5, "interpolate": "monotone", "clip": true},
                 "encoding": {"color": {"datum": "Simulated storage", "scale": {"domain": ["Simulated storage", "Observed storage", "Simulated release"], "range": ["#4d4d4d", "#ff00ff", "#0000ff"]}}}},
                {"data": {"name": "oS"}, "mark": {"type": "line", "strokeWidth": 1.5, "interpolate": "monotone", "clip": true},
                 "encoding": {"color": {"datum": "Observed storage", "scale": {"domain": ["Simulated storage", "Observed storage", "Simulated release"], "range": ["#4d4d4d", "#ff00ff", "#0000ff"]}}}}
              ]
            }
          ],
          "resolve": {"scale": {"y": "independent"}}
        },
        {
          "width": 193, "height": 136,
          "title": {"text": "Trinity", "fontSize": 15, "offset": -14},
          "encoding": {
            "x": {"field": "d", "type": "quantitative", "scale": {"domain": [50, 430], "nice": false, "zero": false},
              "axis": {"values": [120,180,240,300,360,425], "labelExpr": "datum.value > 365 ? datum.value - 365 : datum.value", "labelFontSize": 14, "labelPadding": 10, "title": null}}
          },
          "layer": [
            {
              "encoding": {"y": {"field": "v", "type": "quantitative", "scale": {"domain": [0, 302], "nice": false, "zero": false},
                "axis": {"orient": "left", "values": [0,50,100,150,200], "format": "d", "labelFontSize": 14, "title": null}}},
              "layer": [
                {"data": {"name": "infc"}, "mark": {"type": "line", "strokeWidth": 1, "opacity": 0.8, "clip": true},
                 "encoding": {"stroke": {"datum": "Inflow", "scale": {"domain": ["Observed release", "Inflow"], "range": ["#000000", "#ff0000"]}}}},
                {"data": {"name": "sRc2"}, "mark": {"type": "line", "strokeWidth": 6, "clip": true},
                 "encoding": {"color": {"datum": "Simulated release", "scale": {"domain": ["Simulated storage", "Observed storage", "Simulated release"], "range": ["#4d4d4d", "#ff00ff", "#0000ff"]}}}},
                {"data": {"name": "oRc"}, "mark": {"type": "line", "strokeWidth": 1, "clip": true},
                 "encoding": {"stroke": {"datum": "Observed release", "scale": {"domain": ["Observed release", "Inflow"], "range": ["#000000", "#ff0000"]}}}}
              ]
            },
            {
              "encoding": {"y": {"field": "v", "type": "quantitative", "scale": {"domain": [0.5, 2.08], "nice": false, "zero": false},
                "axis": {"orient": "right", "values": [1,1.5,2], "format": "~g", "labelFontSize": 14,
                  "title": "×10⁹", "titleAngle": 0, "titleX": 0, "titleY": -3, "titleAlign": "left", "titleBaseline": "bottom", "titleFontSize": 15}}},
              "layer": [
                {"data": {"name": "sSc2"}, "mark": {"type": "line", "strokeWidth": 10, "interpolate": "monotone", "clip": true},
                 "encoding": {"color": {"datum": "Simulated storage", "scale": {"domain": ["Simulated storage", "Observed storage", "Simulated release"], "range": ["#4d4d4d", "#ff00ff", "#0000ff"]}}}},
                {"data": {"name": "oSc"}, "mark": {"type": "line", "strokeWidth": 1.5, "interpolate": "monotone", "clip": true},
                 "encoding": {"color": {"datum": "Observed storage", "scale": {"domain": ["Simulated storage", "Observed storage", "Simulated release"], "range": ["#4d4d4d", "#ff00ff", "#0000ff"]}}}}
              ]
            }
          ],
          "resolve": {"scale": {"y": "independent"}}
        }
      ]
    }
  ],
  "config": {
    "view": {"stroke": "#000", "strokeWidth": 1},
    "axis": {"grid": false, "domain": false, "tickSize": -4, "tickColor": "#000", "labelPadding": 9,
      "labelFont": "Liberation Serif", "labelColor": "#000", "titleFont": "Liberation Serif", "titleColor": "#000", "titleFontWeight": "normal"},
    "title": {"font": "Liberation Serif", "fontWeight": "normal", "color": "#000", "anchor": "middle"}
  }
}
